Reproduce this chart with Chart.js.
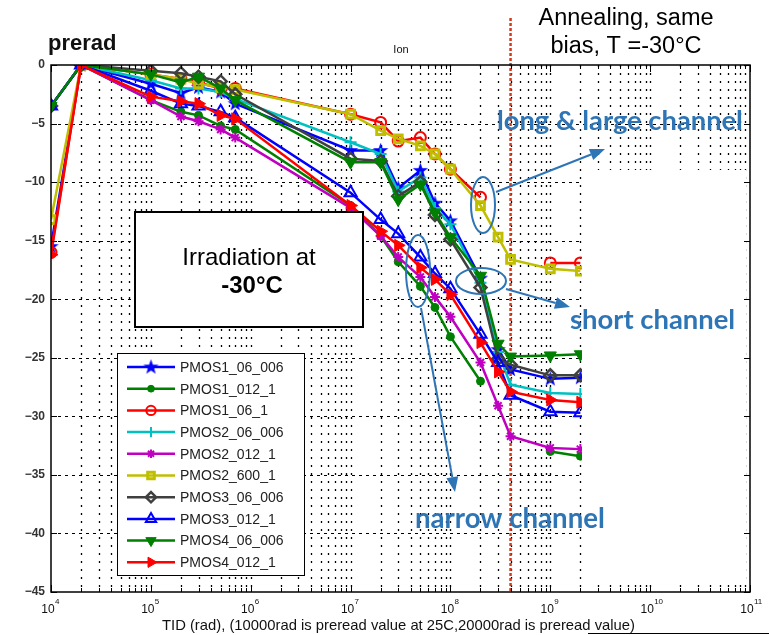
<!DOCTYPE html>
<html>
<head>
<meta charset="utf-8">
<script src="https://cdn.jsdelivr.net/npm/chart.js"></script>
<style>
  html, body { margin: 0; padding: 0; background: #fff; }
</style>
</head>
<body>
<canvas id="chart" width="769" height="635"></canvas>
<script>
// TID sweep (rad): 1e4 = preread at 25C, 2e4 = preread, then irradiation, 4e8+ = annealing
const tidValues = [1e4, 2e4, 1e5, 2e5, 3e5, 5e5, 7e5, 1e7, 2e7, 3e7, 5e7, 7e7, 1e8, 2e8, 3e8, 4e8, 1e9, 2e9];

const seriesNames = ["PMOS1_06_006", "PMOS1_012_1", "PMOS1_06_1", "PMOS2_06_006", "PMOS2_012_1",
  "PMOS2_600_1", "PMOS3_06_006", "PMOS3_012_1", "PMOS4_06_006", "PMOS4_012_1"];

// Ion change (%)
const pmos1_06_006 = [-15.5, 0, -1.6, -2.4, -1.9, -2.3, -3.3, -7.3, -7.3, -10.5, -9.0, -11.8, -13.3, -18.2, -24.3, -26.0, -26.8, -26.7];
const pmos1_012_1  = [-3.5, 0, -3.0, -4.0, -4.3, -5.2, -5.5, -12.0, -14.6, -16.8, -18.9, -20.7, -23.2, -27.0, null, null, -33.0, -33.4];
const pmos1_06_1   = [-16.0, 0, -0.8, -1.2, -1.5, -2.0, -2.0, -4.2, -4.9, -6.5, -6.2, -7.6, -8.9, -11.3, null, null, -16.9, -16.9];
const pmos2_06_006 = [-3.5, 0, -1.3, -2.0, -2.0, -2.3, -2.9, -6.6, -7.6, -10.8, -9.6, -12.2, -13.6, -18.6, -24.5, -27.3, -28.0, -28.1];
const pmos2_012_1  = [-3.5, 0, -3.0, -4.4, -4.8, -5.5, -6.2, -12.2, -14.6, -16.4, -18.1, -19.8, -21.5, -25.4, -29.1, -31.7, -32.7, -32.8];
const pmos2_600_1  = [-13.2, 0, -0.8, -1.2, -1.6, -1.9, -2.1, -4.2, -5.6, -6.3, -6.9, -7.6, -8.9, -12.0, -14.7, -16.6, -17.4, -17.6];
const pmos3_06_006 = [-3.5, 0, -0.5, -0.7, -1.0, -1.4, -2.5, -8.0, -8.2, -11.2, -10.0, -12.8, -14.9, -19.0, -25.1, -25.6, -26.5, -26.5];
const pmos3_012_1  = [-3.5, 0, -2.2, -3.3, -3.5, -4.0, -4.5, -10.9, -13.2, -14.4, -16.4, -17.8, -19.1, -23.0, -25.4, -28.2, -29.6, -29.7];
const pmos4_06_006 = [-3.5, 0, -0.8, -1.5, -1.0, -2.0, -3.0, -8.3, -8.3, -11.5, -10.2, -12.6, -14.7, -18.0, -23.8, -24.9, -24.8, -24.7];
const pmos4_012_1  = [-16.2, 0, -2.7, -3.1, -3.3, -4.3, -4.6, -12.0, -14.2, -15.4, -17.3, -18.3, -19.6, -23.7, -26.2, -27.9, -28.6, -28.8];

const seriesValues = [pmos1_06_006, pmos1_012_1, pmos1_06_1, pmos2_06_006, pmos2_012_1,
  pmos2_600_1, pmos3_06_006, pmos3_012_1, pmos4_06_006, pmos4_012_1];

const yTicks = [0, -5, -10, -15, -20, -25, -30, -35, -40, -45];
const xDecades = [4, 5, 6, 7, 8, 9, 10, 11];
const annealStart = 4e8;

// pentagram marker for the first series
function starMarker(color) {
  const c = document.createElement("canvas");
  c.width = 17; c.height = 17;
  const g = c.getContext("2d");
  g.beginPath();
  for (let i = 0; i < 10; i++) {
    const r = i % 2 ? 3.3 : 8;
    const a = -Math.PI / 2 + i * Math.PI / 5;
    g.lineTo(8.5 + r * Math.cos(a), 8.8 + r * Math.sin(a));
  }
  g.closePath();
  g.fillStyle = color;
  g.fill();
  return c;
}

const seriesStyles = [
  { color: "#0000ff", pointStyle: starMarker("#0000ff"), radius: 7, fill: true, bw: 1 },
  { color: "#008000", pointStyle: "circle", radius: 4, fill: true, bw: 1 },
  { color: "#ff0000", pointStyle: "circle", radius: 5.5, fill: false, bw: 2 },
  { color: "#00c0c0", pointStyle: "cross", radius: 6, fill: false, bw: 2 },
  { color: "#c000c0", pointStyle: "star", radius: 5, fill: false, bw: 2 },
  { color: "#bfbf00", pointStyle: "rect", radius: 5.5, fill: false, bw: 3 },
  { color: "#404040", pointStyle: "rectRot", radius: 6, fill: false, bw: 2.5 },
  { color: "#0000ff", pointStyle: "triangle", radius: 7, fill: false, bw: 2 },
  { color: "#008000", pointStyle: "triangle", radius: 7, fill: true, bw: 1, rotation: 180 },
  { color: "#ff0000", pointStyle: "triangle", radius: 7, fill: true, bw: 1, rotation: 90 },
];

const datasets = seriesNames.map((name, i) => {
  const st = seriesStyles[i];
  return {
    label: name,
    data: tidValues.map((t, j) => ({ x: t, y: seriesValues[i][j] })),
    borderColor: st.color,
    backgroundColor: st.color,
    borderWidth: 2.5,
    pointStyle: st.pointStyle,
    pointRadius: st.radius,
    pointRotation: st.rotation || 0,
    pointBorderWidth: st.bw,
    pointBorderColor: st.color,
    pointBackgroundColor: st.fill ? st.color : "rgba(0,0,0,0)",
    spanGaps: false,
    tension: 0,
    order: 10 - i,
  };
});

function drawMarker(ctx, st, x, y) {
  ctx.save();
  ctx.strokeStyle = st.color;
  ctx.fillStyle = st.fill ? st.color : "rgba(0,0,0,0)";
  ctx.lineWidth = st.bw;
  if (Chart.helpers && Chart.helpers.drawPoint) {
    Chart.helpers.drawPoint(ctx, { pointStyle: st.pointStyle, radius: st.radius * 0.85, rotation: st.rotation || 0, borderWidth: st.bw }, x, y);
  }
  ctx.restore();
}

function arrow(ctx, x1, y1, x2, y2) {
  const ang = Math.atan2(y2 - y1, x2 - x1);
  const len = 15, half = 6;
  const bx = x2 - len * Math.cos(ang), by = y2 - len * Math.sin(ang);
  ctx.beginPath();
  ctx.moveTo(x1, y1);
  ctx.lineTo(bx, by);
  ctx.stroke();
  ctx.beginPath();
  ctx.moveTo(x2, y2);
  ctx.lineTo(bx + half * Math.sin(ang), by - half * Math.cos(ang));
  ctx.lineTo(bx - half * Math.sin(ang), by + half * Math.cos(ang));
  ctx.closePath();
  ctx.fill();
}

function fitText(ctx, text, weight, family, width, x, y) {
  ctx.font = weight + " 20px " + family;
  const size = 20 * width / ctx.measureText(text).width;
  ctx.font = weight + " " + size.toFixed(1) + "px " + family;
  ctx.fillText(text, x, y);
}

const overlay = {
  id: "overlay",
  beforeDatasetsDraw(chart) {
    const { ctx, chartArea: a, scales: { x, y } } = chart;
    ctx.save();
    ctx.strokeStyle = "#000";
    ctx.lineWidth = 1.3;
    // log grid, dotted
    ctx.setLineDash([2, 6]);
    for (let n = 4; n < 11; n++) {
      for (let k = 1; k < 10; k++) {
        if (n === 4 && k === 1) continue;
        const px = Math.round(x.getPixelForValue(k * Math.pow(10, n))) + 0.5;
        ctx.beginPath(); ctx.moveTo(px, a.top); ctx.lineTo(px, a.bottom); ctx.stroke();
      }
    }
    // horizontal grid, dashed
    ctx.setLineDash([3, 4]);
    ctx.lineWidth = 1;
    yTicks.slice(1, -1).forEach(v => {
      const py = Math.round(y.getPixelForValue(v)) + 0.5;
      ctx.beginPath(); ctx.moveTo(a.left, py); ctx.lineTo(a.right, py); ctx.stroke();
    });
    // annealing start marker
    ctx.strokeStyle = "#d23a1e";
    ctx.lineWidth = 2.5;
    ctx.setLineDash([3, 2]);
    const ax = x.getPixelForValue(annealStart);
    ctx.beginPath(); ctx.moveTo(ax, 18); ctx.lineTo(ax, a.bottom); ctx.stroke();
    ctx.restore();
  },
  afterDatasetsDraw(chart) {
    const { ctx, chartArea: a, scales: { x, y } } = chart;
    ctx.save();

    // white patch pasted over the right part of the plot
    ctx.fillStyle = "#fff";
    ctx.fillRect(582, 170, 164, 415);

    // ticks and frame
    ctx.strokeStyle = "#000";
    ctx.lineWidth = 1;
    for (let n = 4; n <= 11; n++) {
      for (let k = 1; k < 10; k++) {
        if (n === 11 && k > 1) break;
        const px = Math.round(x.getPixelForValue(k * Math.pow(10, n))) + 0.5;
        const len = k === 1 ? 7 : 4;
        ctx.beginPath();
        ctx.moveTo(px, a.bottom); ctx.lineTo(px, a.bottom - len);
        ctx.moveTo(px, a.top); ctx.lineTo(px, a.top + len);
        ctx.stroke();
      }
    }
    yTicks.forEach(v => {
      const py = Math.round(y.getPixelForValue(v)) + 0.5;
      ctx.beginPath();
      ctx.moveTo(a.left, py); ctx.lineTo(a.left + 6, py);
      ctx.moveTo(a.right, py); ctx.lineTo(a.right - 6, py);
      ctx.stroke();
    });
    ctx.lineWidth = 1.5;
    ctx.strokeRect(a.left, a.top, a.right - a.left, a.bottom - a.top);

    // x tick labels 10^n
    ctx.fillStyle = "#111";
    xDecades.forEach(n => {
      const px = x.getPixelForValue(Math.pow(10, n));
      ctx.font = "12px 'Liberation Sans', Arial, sans-serif";
      ctx.textAlign = "center";
      ctx.textBaseline = "alphabetic";
      ctx.fillText("10", px - 3, 613);
      ctx.font = "8px 'Liberation Sans', Arial, sans-serif";
      ctx.textAlign = "left";
      ctx.fillText(String(n), px + 4, 604);
    });

    // axis title and header texts
    ctx.textAlign = "left";
    fitText(ctx, "TID (rad), (10000rad is preread value at 25C,20000rad is preread value)", "", "'Liberation Sans', Arial, sans-serif", 474, 162, 630);
    ctx.beginPath(); ctx.moveTo(588, 633.5); ctx.lineTo(769, 633.5); ctx.lineWidth = 1; ctx.stroke();
    ctx.textAlign = "center";
    ctx.font = "11px 'Liberation Sans', Arial, sans-serif";
    ctx.fillText("Ion", 401, 53);
    ctx.textAlign = "left";
    ctx.font = "bold 22px 'Liberation Sans', Arial, sans-serif";
    ctx.fillText("prerad", 48, 50);
    ctx.textAlign = "center";
    ctx.fillStyle = "#000";
    ctx.font = "23.5px 'Liberation Sans', Arial, sans-serif";
    ctx.fillText("Annealing, same", 626, 25);
    ctx.fillText("bias, T =-30°C", 626, 53);

    // blue callouts
    const blue = "#2e75b6";
    ctx.strokeStyle = blue;
    ctx.fillStyle = blue;
    ctx.lineWidth = 2;
    [[483, 205, 12, 28], [481, 281, 25, 13], [418, 271, 12, 36]].forEach(([cx, cy, rx, ry]) => {
      ctx.beginPath(); ctx.ellipse(cx, cy, rx, ry, 0, 0, Math.PI * 2); ctx.stroke();
    });
    arrow(ctx, 496, 192, 605, 149);
    arrow(ctx, 506, 289, 570, 307);
    arrow(ctx, 421, 308, 455, 492);
    ctx.textAlign = "left";
    ctx.textBaseline = "alphabetic";
    fitText(ctx, "long & large channel", "bold", "Lato, 'Open Sans', sans-serif", 246, 497, 130);
    fitText(ctx, "short channel", "bold", "Lato, 'Open Sans', sans-serif", 165, 570, 329);
    fitText(ctx, "narrow channel", "bold", "Lato, 'Open Sans', sans-serif", 190, 415, 528);

    // irradiation text box
    ctx.fillStyle = "#fff";
    ctx.fillRect(135, 212, 228, 115);
    ctx.strokeStyle = "#000";
    ctx.lineWidth = 2;
    ctx.strokeRect(135, 212, 228, 115);
    ctx.fillStyle = "#000";
    ctx.textAlign = "center";
    ctx.font = "24px 'Liberation Sans', Arial, sans-serif";
    ctx.fillText("Irradiation at", 249, 265);
    ctx.font = "bold 24px 'Liberation Sans', Arial, sans-serif";
    ctx.fillText("-30°C", 252, 293);

    // legend
    ctx.fillStyle = "#fff";
    ctx.fillRect(117, 353, 187, 222);
    ctx.strokeStyle = "#000";
    ctx.lineWidth = 1;
    ctx.strokeRect(117.5, 353.5, 187, 222);
    ctx.textAlign = "left";
    ctx.textBaseline = "middle";
    ctx.font = "14px 'Liberation Sans', Arial, sans-serif";
    seriesNames.forEach((name, i) => {
      const st = seriesStyles[i];
      const ly = 367 + i * 21.7;
      ctx.strokeStyle = st.color;
      ctx.lineWidth = 2.5;
      ctx.beginPath(); ctx.moveTo(127, ly); ctx.lineTo(175, ly); ctx.stroke();
      drawMarker(ctx, st, 151, ly);
      ctx.fillStyle = "#222";
      ctx.fillText(name, 180, ly + 1);
    });
    ctx.restore();
  }
};

new Chart(document.getElementById("chart"), {
  type: "line",
  data: { datasets },
  options: {
    responsive: false,
    animation: false,
    layout: { padding: { top: 65, right: 19, left: 0, bottom: 0 } },
    plugins: { legend: { display: false }, tooltip: { enabled: false } },
    scales: {
      x: {
        type: "logarithmic",
        min: 1e4,
        max: 1e11,
        grid: { display: false, drawTicks: false },
        border: { display: false },
        ticks: { display: false },
        afterFit: s => { s.height = 43; },
      },
      y: {
        type: "linear",
        min: -45,
        max: 0,
        grid: { display: false, drawTicks: false },
        border: { display: false },
        afterBuildTicks: s => { s.ticks = yTicks.map(v => ({ value: v })); },
        ticks: {
          autoSkip: false,
          padding: 6,
          color: "#333",
          font: { family: "'Liberation Sans', Arial, sans-serif", size: 12, weight: "bold" },
          callback: v => (v < 0 ? "\u2212" + Math.abs(v) : String(v)),
        },
        afterFit: s => { s.width = 51; },
      },
    },
  },
  plugins: [overlay],
});
</script>
</body>
</html>
